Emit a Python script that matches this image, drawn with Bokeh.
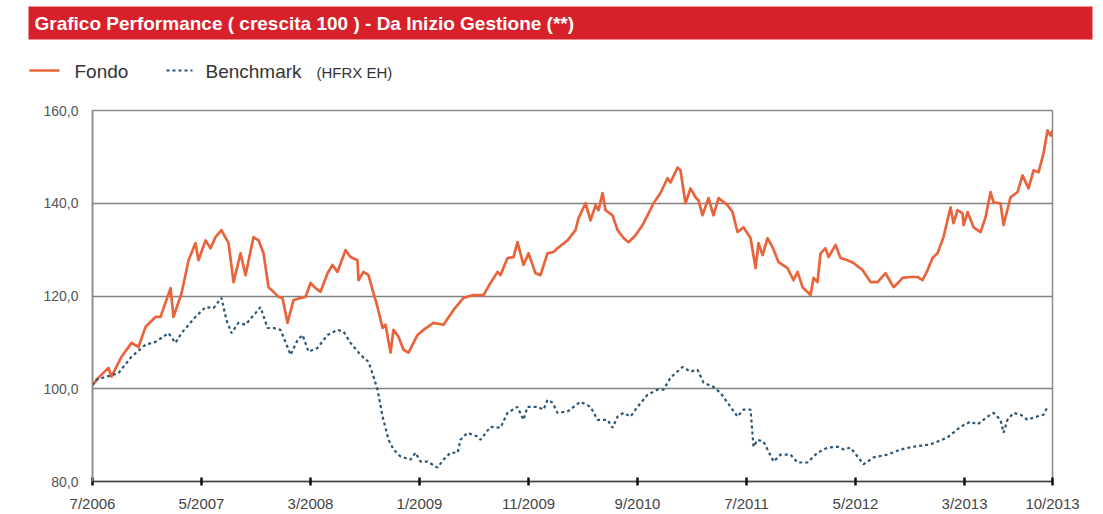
from bokeh.plotting import figure
from bokeh.models import Range1d, FixedTicker
from bokeh.core.properties import value
from bokeh.embed import file_html
from bokeh.resources import INLINE

# ---- data (months since 7/2006, index value, base 100) ----
fondo_m = [0, 0.55, 1.47, 1.74, 2.66, 3.58, 4.22, 4.86, 5.78, 6.24, 7.16, 7.43, 8.17, 8.81, 9.45, 9.72,
           10.37, 10.83, 11.28, 11.83, 12.48, 12.94, 13.58, 14.04, 14.77, 15.23, 15.69, 16.15, 16.61,
           17.06, 17.43, 17.89, 18.44, 19.08, 19.54, 20.0, 20.46, 20.92, 21.56, 22.02, 22.48, 23.21,
           23.67, 24.31, 24.40, 24.86, 25.32, 25.69, 26.15, 26.61, 26.88, 27.34, 27.61, 28.07, 28.53,
           28.99, 29.82, 30.37, 31.28, 32.20, 33.12, 34.04, 34.95, 35.87, 36.51, 37.16, 37.43, 38.07,
           38.62, 38.99, 39.54, 40.0, 40.64, 41.10, 41.74, 42.29, 42.66, 43.58, 44.31, 44.59, 45.23,
           45.69, 46.15, 46.42, 46.79, 47.06, 47.71, 48.17, 48.72, 49.17, 49.82, 50.46, 51.01, 51.47,
           52.11, 52.75, 53.03, 53.67, 53.94, 54.40, 54.86, 55.32, 55.60, 55.96, 56.51, 56.97, 57.43,
           58.26, 58.72, 59.17, 59.72, 60.37, 60.83, 61.10, 61.47, 61.93, 62.39, 62.94, 63.76, 64.31,
           64.68, 65.14, 65.87, 66.15, 66.51, 66.79, 67.25, 67.52, 68.17, 68.62, 69.27, 69.82, 70.64,
           71.38, 72.02, 72.75, 73.49, 74.13, 74.31, 75.05, 75.69, 76.15, 76.61, 77.06, 77.52, 78.07,
           78.72, 78.99, 79.36, 79.82, 79.91, 80.28, 80.83, 81.47, 81.93, 82.39, 82.66, 83.30, 83.58,
           84.22, 84.86, 85.32, 85.87, 86.33, 86.79, 87.25, 87.61, 87.89, 88.07]
fondo_v = [100.8, 102.4, 104.5, 102.6, 106.9, 109.9, 109.0, 113.3, 115.5, 115.5, 121.7, 115.5, 120.6,
           127.7, 131.4, 127.7, 132.0, 130.3, 132.7, 134.2, 131.4, 123.0, 129.2, 124.5, 132.7, 132.0,
           129.2, 121.9, 120.9, 119.8, 119.6, 114.2, 119.1, 119.6, 119.8, 122.8, 121.7, 120.9, 124.9,
           126.7, 125.2, 129.9, 128.4, 127.7, 123.4, 125.2, 124.5, 121.3, 117.6, 113.1, 113.8, 107.8,
           112.7, 111.2, 108.4, 107.8, 111.6, 112.7, 114.2, 113.8, 117.0, 119.6, 120.2, 120.2, 122.8,
           125.2, 124.5, 128.2, 128.4, 131.6, 126.7, 129.2, 124.9, 124.5, 129.2, 129.5, 130.3, 132.0,
           134.2, 136.8, 140.0, 136.3, 139.6, 138.5, 142.2, 138.5, 137.4, 134.2, 132.5, 131.6, 133.1,
           135.3, 137.8, 140.0, 142.2, 145.4, 144.5, 147.7, 147.1, 140.0, 143.2, 141.3, 140.6, 137.4,
           141.1, 137.4, 141.1, 139.6, 138.1, 133.8, 134.8, 132.5, 126.0, 131.4, 128.8, 132.5, 130.5,
           127.3, 126.0, 123.4, 125.2, 121.9, 120.2, 123.9, 123.0, 129.2, 130.3, 128.4, 131.0, 128.2,
           127.7, 127.1, 125.6, 123.0, 123.0, 124.9, 121.9, 123.4, 123.9, 124.1, 124.1, 123.4, 125.6,
           128.2, 129.2, 132.7, 139.1, 135.7, 138.5, 137.8, 135.3, 138.1, 134.8, 133.8, 137.0, 142.4,
           140.2, 140.0, 135.3, 141.3, 142.4, 146.0, 143.2, 147.1, 146.7, 150.8, 155.7, 154.6, 155.7]

bench_m = [0, 0.28, 2.39, 3.58, 4.86, 5.78, 6.97, 7.61, 8.17, 9.45, 10.37, 11.10, 11.83, 12.29, 12.75,
           13.39, 14.04, 14.95, 15.41, 16.06, 16.61, 17.25, 17.89, 18.17, 18.81, 19.27, 19.82, 20.64,
           21.56, 22.48, 23.03, 23.67, 24.59, 25.32, 25.78, 26.15, 26.61, 27.16, 27.61, 28.26, 29.17,
           29.63, 30.09, 30.73, 31.65, 32.20, 32.84, 33.49, 33.76, 34.40, 35.32, 35.60, 36.51, 37.43,
           38.07, 38.99, 39.54, 39.91, 40.83, 41.38, 41.74, 42.20, 42.66, 43.58, 44.77, 45.69, 46.33,
           47.25, 47.71, 48.17, 48.72, 49.36, 50.0, 50.92, 51.83, 52.39, 53.03, 54.13, 54.86, 55.50,
           56.06, 56.97, 57.61, 58.26, 59.17, 59.72, 60.37, 60.64, 61.01, 61.56, 62.48, 63.12, 64.04,
           64.68, 65.60, 66.51, 67.43, 68.35, 68.90, 69.54, 70.18, 70.73, 71.65, 72.94, 74.13, 75.32,
           76.88, 78.44, 79.63, 80.55, 81.19, 82.11, 82.66, 83.30, 83.58, 83.94, 84.50, 85.14, 85.78,
           86.33, 87.25, 87.61]
bench_v = [100.8, 101.9, 103.4, 106.9, 109.5, 110.1, 112.0, 109.9, 112.0, 115.5, 117.6, 117.4, 119.6,
           114.8, 112.0, 114.2, 113.8, 116.3, 117.6, 113.1, 113.1, 112.7, 109.0, 107.3, 110.5, 111.6,
           108.0, 108.8, 111.6, 112.7, 112.3, 109.9, 107.3, 105.8, 102.6, 99.8, 94.0, 89.0, 86.9, 85.4,
           84.7, 86.2, 84.3, 84.3, 83.0, 84.7, 86.2, 86.2, 89.0, 90.5, 89.7, 89.0, 91.8, 91.6, 94.8,
           96.1, 93.3, 96.1, 96.1, 95.5, 97.6, 97.0, 94.8, 95.1, 97.2, 96.1, 93.3, 93.3, 91.6, 94.0,
           94.8, 94.0, 96.1, 98.7, 99.8, 99.8, 102.4, 104.7, 103.7, 104.1, 101.3, 100.4, 99.1, 97.0,
           94.0, 95.5, 95.5, 87.5, 89.0, 88.6, 84.3, 85.8, 85.8, 84.1, 84.1, 86.2, 87.3, 87.5, 86.9,
           87.3, 85.4, 83.7, 85.2, 85.8, 86.9, 87.5, 88.0, 89.5, 91.8, 92.9, 92.3, 94.0, 94.8, 93.3,
           90.5, 93.3, 94.8, 94.4, 93.3, 93.8, 94.4, 96.1]

x_tick_pos = [0, 10, 20, 30, 40, 50, 60, 70, 80, 88.07]
x_tick_labels = ["7/2006", "5/2007", "3/2008", "1/2009", "11/2009", "9/2010", "7/2011",
                 "5/2012", "3/2013", "10/2013"]
y_tick_pos = [80, 100, 120, 140, 160]
y_tick_labels = ["80,0", "100,0", "120,0", "140,0", "160,0"]

title_text = "Grafico Performance ( crescita 100 ) - Da Inizio Gestione (**)"
legend_fondo = "Fondo"
legend_bench = "Benchmark"
legend_bench_note = "(HFRX EH)"

FONDO_COLOR = "#e9643b"
BENCH_COLOR = "#2b5575"
FONT = "Liberation Sans"

W = 1103
HDR_H = 96

# ---- header (title bar + legend), pixel-like coordinates ----
hdr = figure(width=W, height=HDR_H, x_range=Range1d(0, W), y_range=Range1d(HDR_H, 0),
             output_backend="svg", toolbar_location=None,
             x_axis_location=None, y_axis_location=None, min_border=0)
hdr.outline_line_color = None
hdr.xgrid.visible = False
hdr.ygrid.visible = False
hdr.quad(left=[28], right=[1092], top=[6], bottom=[39], fill_color="#d8202a", line_color=None)
hdr.text(x=[34], y=[23], text=[title_text], text_font=value(FONT), text_font_style="bold",
         text_font_size="19px", text_color="white", text_baseline="middle", text_align="left")
hdr.line(x=[29, 59], y=[70, 70], line_color=FONDO_COLOR, line_width=2.7)
hdr.text(x=[74], y=[71], text=[legend_fondo], text_font=value(FONT), text_font_size="19px",
         text_color="#333333", text_baseline="middle")
hdr.line(x=[166, 192], y=[70, 70], line_color=BENCH_COLOR, line_width=2.2, line_dash="3 3")
hdr.text(x=[205], y=[71], text=[legend_bench], text_font=value(FONT), text_font_size="19px",
         text_color="#333333", text_baseline="middle")
hdr.text(x=[316], y=[72], text=[legend_bench_note], text_font=value(FONT),
         text_font_size="15px", text_color="#333333", text_baseline="middle")

# ---- main chart ----
p = figure(width=W, height=514 - HDR_H, x_range=Range1d(0, 88.07), y_range=Range1d(80, 160),
           output_backend="svg", toolbar_location=None,
           min_border_left=92, min_border_right=51, min_border_top=14, min_border_bottom=31)
p.outline_line_color = "#8a8a8a"
p.outline_line_width = 1.5
p.xgrid.visible = False
p.ygrid.grid_line_color = "#808080"
p.ygrid.grid_line_width = 1.5
p.ygrid.ticker = FixedTicker(ticks=y_tick_pos)

p.line(fondo_m, fondo_v, line_color=FONDO_COLOR, line_width=2.7, line_join="round")
p.line(bench_m, bench_v, line_color=BENCH_COLOR, line_width=2.2, line_dash="3 3")

xa = p.xaxis[0]
xa.ticker = FixedTicker(ticks=x_tick_pos)
xa.major_label_overrides = {t: l for t, l in zip(x_tick_pos, x_tick_labels)}
xa.minor_tick_line_color = None
xa.major_tick_in = 4
xa.major_tick_out = 4
xa.major_tick_line_width = 2.5
xa.major_tick_line_color = "#111111"
xa.axis_line_color = "#444444"
xa.axis_line_width = 1.5
xa.major_label_standoff = 9
xa.major_label_text_font = FONT
xa.major_label_text_font_size = "15px"
xa.major_label_text_color = "#444444"

ya = p.yaxis[0]
ya.ticker = FixedTicker(ticks=y_tick_pos)
ya.major_label_overrides = {t: l for t, l in zip(y_tick_pos, y_tick_labels)}
ya.minor_tick_line_color = None
ya.major_tick_line_color = None
ya.major_tick_out = 0
ya.major_tick_in = 0
ya.axis_line_color = "#8a8a8a"
ya.axis_line_width = 1.5
ya.major_label_standoff = 14
ya.major_label_text_font = FONT
ya.major_label_text_font_size = "14px"
ya.major_label_text_color = "#555555"

open("out.html", "w").write(file_html([hdr, p], INLINE))
